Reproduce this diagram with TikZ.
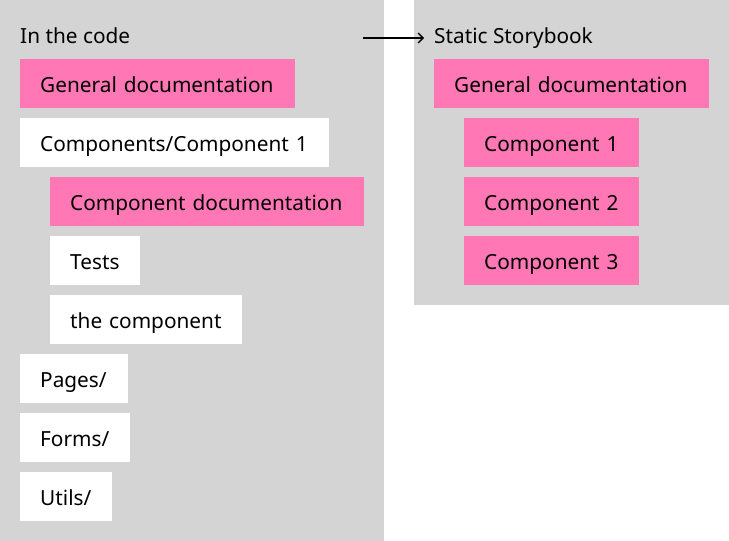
\documentclass[tikz,border=0pt]{standalone}
\usepackage{fontspec}
\setmainfont{Noto Sans}
\usetikzlibrary{arrows.meta}
\definecolor{panelgray}{HTML}{D4D4D4}
\definecolor{pinkbox}{HTML}{FF77B5}
\tikzset{
  x=1pt, y=-1pt,
  panel/.style={fill=panelgray, draw=none},
  boxbase/.style={anchor=north west, inner xsep=20pt, inner ysep=0pt,
    minimum height=49pt, align=left, font=\fontsize{20.8}{25}\selectfont,
    text height=18pt, text depth=1pt},
  pinkitem/.style={boxbase, fill=pinkbox},
  whiteitem/.style={boxbase, fill=white},
  heading/.style={anchor=base west, inner sep=0pt, font=\fontsize{20.8}{25}\selectfont},
}
\begin{document}
\begin{tikzpicture}
\fill[white] (0,0) rectangle (729,541);
\useasboundingbox (0,0) rectangle (729,541);
\fill[panel] (0,0) rectangle (384,541);
\fill[panel] (414,0) rectangle (729,305);

\node[heading] (code) at (20,43) {In the code};
\node[heading] (story) at (434,43) {Static Storybook};

\node[pinkitem, text width=235pt] (gen1) at (20,59) {General documentation};
\node[whiteitem, text width=269pt] (comp) at (20,118) {Components/Component 1};
\node[pinkitem, text width=274pt] (cdoc) at (50,177) {Component documentation};
\node[whiteitem, text width=50pt] (tests) at (50,236) {Tests};
\node[whiteitem, text width=152pt] (thec) at (50,295) {the component};
\node[whiteitem, text width=68pt] (pages) at (20,354) {Pages/};
\node[whiteitem, text width=70pt] (forms) at (20,413) {Forms/};
\node[whiteitem, text width=52pt] (utils) at (20,472) {Utils/};

\node[pinkitem, text width=235pt] (gen2) at (434,59) {General documentation};
\node[pinkitem, text width=135pt] (c1) at (464,118) {Component 1};
\node[pinkitem, text width=135pt] (c2) at (464,177) {Component 2};
\node[pinkitem, text width=135pt] (c3) at (464,236) {Component 3};

\coordinate (astart) at (363,38);
\coordinate (aend) at (424,38);
\draw[line width=1.4pt, -{Straight Barb[length=5pt,width=10pt]}] (astart) -- (aend);
\end{tikzpicture}
\end{document}
